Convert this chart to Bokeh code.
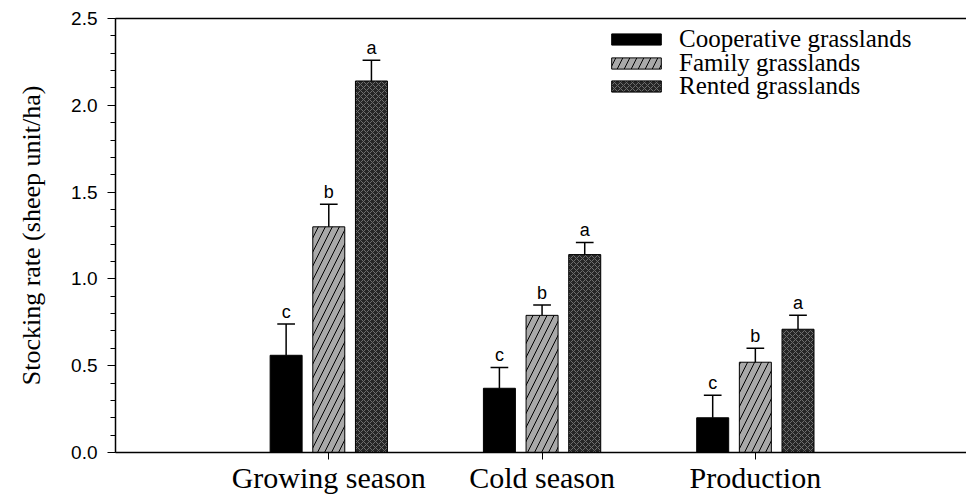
from bokeh.plotting import figure
from bokeh.models import (Range1d, FixedTicker, SingleIntervalTicker, LinearAxis,
                          Legend, LegendItem, ColumnDataSource, NumeralTickFormatter)
from bokeh.core.properties import value
from bokeh.embed import file_html
from bokeh.resources import INLINE

categories = ["Growing season", "Cold season", "Production"]
series = ["Cooperative grasslands", "Family grasslands", "Rented grasslands"]
coop = [0.56, 0.37, 0.20]
coop_se = [0.18, 0.12, 0.13]
family = [1.30, 0.79, 0.52]
family_se = [0.13, 0.06, 0.08]
rented = [2.14, 1.14, 0.71]
rented_se = [0.12, 0.07, 0.08]
coop_letters = ["c", "c", "c"]
family_letters = ["b", "b", "b"]
rented_letters = ["a", "a", "a"]

SERIF = "Liberation Serif"
SANS = "Liberation Sans"

p = figure(width=966, height=496, output_backend="svg", toolbar_location=None,
           x_range=Range1d(0, 3.99), y_range=Range1d(0, 2.5),
           min_border_left=115, min_border_right=0, min_border_top=18,
           min_border_bottom=43)
p.xgrid.visible = False
p.ygrid.visible = False
p.outline_line_color = None
p.background_fill_color = "white"
p.border_fill_color = "white"

centers = [i + 1 for i in range(len(categories))]
offsets = [-0.2, 0.0, 0.2]
bar_w = 0.15
cap_w = 0.083

styles = [
    dict(fill_color="black", line_color="black"),
    dict(fill_color="#a9a9a9", line_color="black", hatch_pattern="/",
         hatch_color="black", hatch_scale=14, hatch_weight=1),
    dict(fill_color="#262626", line_color="black", hatch_pattern="x",
         hatch_color="#6e6e6e", hatch_scale=6, hatch_weight=1),
]

renderers = []
for k, (vals, ses, letters) in enumerate([(coop, coop_se, coop_letters),
                                          (family, family_se, family_letters),
                                          (rented, rented_se, rented_letters)]):
    xs = [c + offsets[k] for c in centers]
    tops = [v + s for v, s in zip(vals, ses)]
    src = ColumnDataSource(dict(x=xs, top=vals, err=tops, lab=letters,
                                x0=[x - cap_w / 2 for x in xs],
                                x1=[x + cap_w / 2 for x in xs]))
    r = p.vbar(x="x", top="top", bottom=0, width=bar_w, source=src,
               line_width=1, **styles[k])
    p.segment(x0="x", y0="top", x1="x", y1="err", source=src,
              line_color="black", line_width=1.5)
    p.segment(x0="x0", y0="err", x1="x1", y1="err", source=src,
              line_color="black", line_width=1.5)
    p.text(x="x", y="err", text="lab", source=src, text_align="center",
           text_baseline="bottom", y_offset=-2,
           text_font=value(SANS), text_font_size="18px", text_color="black")
    renderers.append(r)

# x axis
xa = p.xaxis[0]
xa.ticker = FixedTicker(ticks=centers)
xa.major_label_overrides = {c: n for c, n in zip(centers, categories)}
xa.major_label_text_font = SERIF
xa.major_label_text_font_size = "30px"
xa.major_label_text_color = "black"
xa.major_label_standoff = 1
xa.major_tick_out = 7
xa.major_tick_in = 0
xa.minor_tick_line_color = None
xa.axis_line_width = 1.5
xa.axis_line_color = "black"
xa.major_tick_line_color = "black"

# y axis
ya = p.yaxis[0]
ya.ticker = SingleIntervalTicker(interval=0.5, num_minor_ticks=5)
ya.formatter = NumeralTickFormatter(format="0.0")
ya.major_label_text_font = SANS
ya.major_label_text_font_size = "19px"
ya.major_label_text_color = "black"
ya.major_label_standoff = 10
ya.major_tick_out = 8
ya.major_tick_in = 0
ya.minor_tick_out = 5
ya.minor_tick_in = 0
ya.axis_line_width = 1.5
ya.axis_line_color = "black"
ya.major_tick_line_color = "black"
ya.minor_tick_line_color = "black"
ya.axis_label = "Stocking rate (sheep unit/ha)"
ya.axis_label_text_font = SERIF
ya.axis_label_text_font_size = "26px"
ya.axis_label_text_font_style = "normal"
ya.axis_label_text_color = "black"
ya.axis_label_standoff = 22

# top frame line
top = LinearAxis(ticker=FixedTicker(ticks=[]), major_tick_line_color=None,
                 minor_tick_line_color=None, axis_line_color="black",
                 axis_line_width=1.5, major_label_standoff=0)
p.add_layout(top, "above")

# one legend per row so the row pitch can match the reference
legend_y = [399, 375, 352]
for name, r, ly in zip(series, renderers, legend_y):
    lg = Legend(items=[LegendItem(label=name, renderers=[r])],
                location=(490, ly), border_line_color=None,
                background_fill_alpha=0, padding=0, margin=0,
                glyph_width=62, glyph_height=14, label_standoff=12,
                label_text_font=SERIF, label_text_font_size="25px",
                label_text_color="black")
    p.add_layout(lg)

open("out.html", "w").write(file_html(p, INLINE))
